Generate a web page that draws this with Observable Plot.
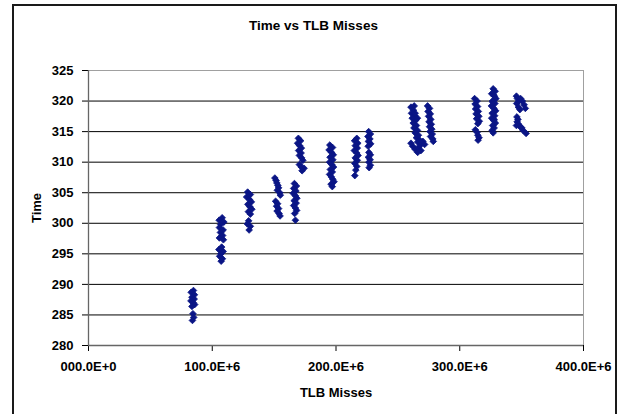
<!DOCTYPE html>
<html><head><meta charset="utf-8">
<script src="https://cdn.jsdelivr.net/npm/d3@7"></script>
<script src="https://cdn.jsdelivr.net/npm/@observablehq/plot@0.6"></script>
<style>
html,body{margin:0;padding:0;background:#fff;}
#wrap{position:relative;width:624px;height:414px;overflow:hidden;background:#fff;font-family:"Liberation Sans",Arial,sans-serif;}
#frame{position:absolute;left:12px;top:4px;width:601px;height:440px;border:2px solid #1a1a1a;}
#title{position:absolute;left:0;width:627px;top:18px;text-align:center;font-weight:bold;font-size:13.5px;color:#000;}
#chart{position:absolute;left:0;top:0;}
</style></head><body>
<div id="wrap"><div id="frame"></div><div id="chart"></div><div id="title">Time vs TLB Misses</div></div>
<script>
// TLB misses in millions, time
const c1 = [[84.8,289.0],[83.0,288.7],[85.6,288.3],[83.6,287.9],[85.4,287.6],[82.8,287.3],[84.6,287.0],[85.8,286.7],[83.6,286.4],[84.4,285.2],[85.0,284.6],[84.0,284.1]];
const c2 = [[108.0,300.9],[105.6,300.5],[109.4,300.2],[106.8,299.8],[105.8,299.3],[108.8,298.9],[106.6,298.5],[108.4,298.0],[105.8,297.6],[109.0,297.3],[107.6,296.1],[105.4,295.7],[108.8,295.4],[107.0,295.0],[106.0,294.6],[108.2,294.2],[107.2,293.8]];
const c3 = [[128.6,305.1],[130.8,304.7],[127.8,304.3],[130.0,303.9],[131.6,303.5],[128.8,303.1],[130.4,302.7],[132.0,302.3],[129.2,301.9],[130.8,301.5],[129.4,300.4],[128.4,299.9],[130.8,299.5],[129.8,298.9]];
const c4 = [[150.6,307.4],[151.6,307.0],[152.2,306.6],[153.0,306.2],[153.6,305.8],[152.6,305.4],[154.6,305.0],[155.0,304.6],[151.2,303.6],[152.8,303.2],[152.0,302.8],[153.6,302.4],[152.4,302.0],[154.0,301.6],[154.8,301.2]];
const c5 = [[166.4,306.5],[168.0,306.1],[165.8,305.7],[167.6,305.3],[165.4,304.9],[167.2,304.5],[168.4,304.1],[166.2,303.7],[167.8,303.3],[165.8,302.9],[167.2,302.5],[168.2,302.1],[166.6,301.6],[167.2,300.5]];
const c6 = [[169.6,313.9],[171.4,313.5],[169.0,313.1],[170.6,312.7],[172.0,312.3],[169.8,311.9],[171.8,311.5],[170.4,311.1],[172.2,310.7],[173.2,310.3],[170.4,309.6],[172.0,309.2],[174.2,309.0],[172.6,308.6]];
const c7 = [[195.0,312.8],[197.2,312.4],[194.4,312.0],[196.4,311.6],[197.8,311.2],[195.2,310.8],[197.4,310.4],[194.8,310.0],[196.6,309.6],[198.0,309.2],[195.4,308.8],[197.0,308.4],[194.8,308.0],[196.2,307.6],[197.4,307.2],[198.4,306.8],[196.0,306.4],[197.0,306.0]];
const c8 = [[216.8,313.9],[215.0,313.5],[217.6,313.1],[215.6,312.7],[217.2,312.3],[214.8,311.9],[216.8,311.5],[217.8,311.1],[215.6,310.7],[217.2,310.3],[215.2,309.8],[216.8,309.3],[216.0,308.7],[215.2,307.8]];
const c9 = [[226.4,315.0],[227.8,314.6],[225.8,314.2],[227.4,313.8],[226.2,313.4],[228.0,313.0],[226.0,312.6],[226.6,311.6],[227.8,311.2],[226.2,310.8],[227.6,310.4],[226.6,310.0],[227.8,309.5],[226.8,309.1]];
const c10 = [[260.6,319.0],[262.6,318.5],[261.0,318.0],[263.4,317.6],[261.6,317.2],[264.2,316.8],[262.4,316.4],[265.0,316.0],[263.0,315.6],[265.8,315.2],[264.0,314.8],[266.6,314.4],[265.0,314.0],[267.6,313.6],[266.0,313.3],[268.6,312.9],[267.0,312.5],[262.0,312.6],[260.6,313.1],[264.0,312.1],[266.0,311.6],[268.6,311.9],[270.2,313.4],[271.6,312.9],[263.2,319.2],[264.0,318.0],[265.8,317.2]];
const c11 = [[274.0,319.2],[275.6,318.8],[274.4,318.3],[276.2,317.9],[274.8,317.5],[276.6,317.0],[275.2,316.6],[277.0,316.2],[275.6,315.8],[277.4,315.4],[276.0,315.0],[277.8,314.6],[276.4,314.2],[278.2,313.8],[278.6,313.4]];
const c12 = [[312.0,320.4],[314.0,320.0],[312.4,319.5],[314.4,319.1],[312.8,318.7],[315.0,318.3],[313.2,317.9],[315.4,317.5],[313.6,317.1],[315.8,316.7],[314.6,316.3],[312.6,315.3],[314.0,314.9],[314.6,314.4],[315.6,314.0],[314.8,313.6]];
const c13 = [[327.0,322.0],[328.6,321.6],[325.8,321.2],[328.0,320.8],[329.2,320.4],[326.4,320.0],[328.4,319.6],[325.6,319.2],[327.6,318.8],[329.0,318.4],[326.2,318.0],[328.2,317.6],[325.8,317.2],[327.4,316.8],[328.8,316.4],[326.6,316.0],[327.8,315.6],[326.2,315.2],[327.0,314.8],[327.4,321.0],[326.8,319.8],[327.8,317.0]];
const c14 = [[345.8,320.8],[346.6,320.4],[347.8,320.0],[349.2,320.4],[350.6,320.0],[352.0,319.4],[353.0,318.8],[346.0,319.6],[347.4,319.0],[348.6,318.6],[346.2,317.4],[347.0,317.0],[346.4,316.6],[347.6,316.2],[348.8,315.8],[350.2,315.6],[351.2,315.2],[353.6,314.7],[345.8,316.0]];

const xTicks = [0, 100e6, 200e6, 300e6, 400e6];
const xTickLabels = ["000.0E+0", "100.0E+6", "200.0E+6", "300.0E+6", "400.0E+6"];
const yTicks = [280, 285, 290, 295, 300, 305, 310, 315, 320, 325];

const clusters = [c1,c2,c3,c4,c5,c6,c7,c8,c9,c10,c11,c12,c13,c14];
const data = clusters.flat().map(([m, t]) => ({misses: m * 1e6, time: t}));
const navy = "#0a1585";

const chart = Plot.plot({
  width: 624,
  height: 414,
  marginLeft: 88,
  marginRight: 41,
  marginTop: 70,
  marginBottom: 69,
  style: {fontFamily: "'Liberation Sans', Arial, sans-serif", fontSize: "13px", fontWeight: "bold", color: "#000", background: "transparent", overflow: "visible"},
  x: {domain: [0, 400e6]},
  y: {domain: [280, 325]},
  marks: [
    Plot.ruleY(yTicks.slice(1, -1), {stroke: "#000", strokeWidth: 1}),
    Plot.ruleY(yTicks.slice(-1), {stroke: "#a0a0a0", strokeWidth: 1}),
    Plot.ruleX(xTicks.slice(-1), {stroke: "#a0a0a0", strokeWidth: 1}),
    Plot.axisY({ticks: yTicks, tickFormat: d => d, tickSize: 6, tickPadding: 9, label: "Time", labelAnchor: "center", labelArrow: "none", labelOffset: 57}),
    Plot.axisX({ticks: xTicks, tickFormat: d => xTickLabels[xTicks.indexOf(d)], tickSize: 6, tickPadding: 10, label: "TLB Misses", labelAnchor: "center", labelArrow: "none", labelOffset: 51}),
    Plot.ruleX(xTicks.slice(0, 1), {stroke: "#666", strokeWidth: 1.3}),
    Plot.ruleY(yTicks.slice(0, 1), {stroke: "#666", strokeWidth: 1.3}),
    Plot.dot(data, {x: "misses", y: "time", symbol: "diamond2", r: 3.0, fill: navy, stroke: navy, strokeWidth: 0.8})
  ]
});
document.getElementById("chart").appendChild(chart);
</script></body></html>
